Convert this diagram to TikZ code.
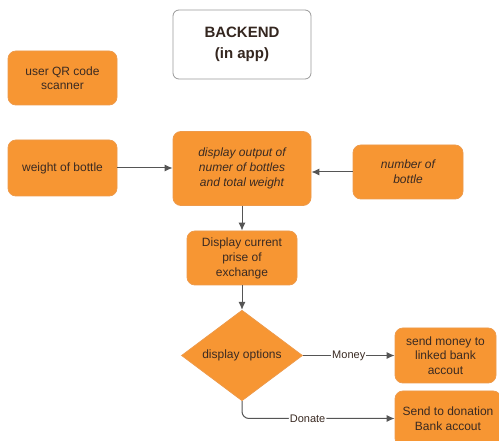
\documentclass[tikz,border=0pt]{standalone}
\usepackage{fontspec}
\setmainfont{Liberation Sans}
\usetikzlibrary{shapes.geometric,arrows.meta}
\definecolor{boxfill}{HTML}{F79633}
\definecolor{boxline}{HTML}{EE9A4A}
\definecolor{txt}{HTML}{3A2A22}
\definecolor{wire}{HTML}{555555}
\begin{document}
\begin{tikzpicture}[x=1pt,y=-1pt,
  orangebox/.style={draw=boxline,line width=0.8pt,fill=boxfill,rounded corners=8pt,
    text=txt,align=center,font=\fontsize{12}{14.5}\selectfont,inner sep=0pt},
  decision/.style={diamond,draw=boxline,line width=0.8pt,fill=boxfill,text=txt,
    font=\fontsize{12}{14.5}\selectfont,inner sep=0pt,minimum width=121pt,minimum height=85pt},
  conn/.style={draw=wire,line width=1pt,-{Latex[length=8pt,width=7pt]}},
  lbl/.style={fill=white,text=txt,font=\fontsize{11}{13}\selectfont,inner sep=1pt}]
\clip (0,0) rectangle (499,441);
\fill[white] (0,0) rectangle (499,441);
\node[draw=gray!80,line width=0.8pt,rounded corners=6pt,fill=white,minimum width=138pt,minimum height=69pt,
  align=center,font=\fontsize{15}{21}\selectfont\bfseries,text=txt!90!black] (backend) at (242,44.5) {BACKEND\\(in app)};
\node[orangebox,minimum width=109pt,minimum height=54pt] (qr) at (62.5,78) {user QR code\\scanner};
\node[orangebox,minimum width=109pt,minimum height=56pt] (weight) at (62.5,168) {weight of bottle};
\node[orangebox,minimum width=138pt,minimum height=74pt,font=\fontsize{12}{15}\selectfont\itshape] (disp) at (242,168.5) {display output of\\numer of bottles\\and total weight};
\node[orangebox,minimum width=110pt,minimum height=54pt,font=\fontsize{12}{15}\selectfont\itshape] (num) at (408,172) {number of\\bottle};
\node[orangebox,minimum width=110pt,minimum height=54pt,font=\fontsize{12}{15}\selectfont] (price) at (242,258) {Display current\\prise of\\exchange};
\node[decision] (opt) at (242,355.5) {display options};
\node[orangebox,minimum width=101pt,minimum height=55pt] (money) at (445.5,355.5) {send money to\\linked bank\\accout};
\node[orangebox,minimum width=106pt,minimum height=55pt] (don) at (448,418.5) {Send to donation\\Bank accout};
\draw[conn] (weight.east) -- (disp.west |- weight.east);
\draw[conn] (num.west) -- (disp.east |- num.west);
\draw[conn] (disp.south) -- (price.north);
\draw[conn] (price.south) -- (opt.north);
\draw[conn] (opt.east) -- node[lbl,pos=0.5] {Money} (money.west);
\draw[conn,rounded corners=7pt] (opt.south) |- node[lbl,pos=0.715] {Donate} (don.west);
\end{tikzpicture}
\end{document}
